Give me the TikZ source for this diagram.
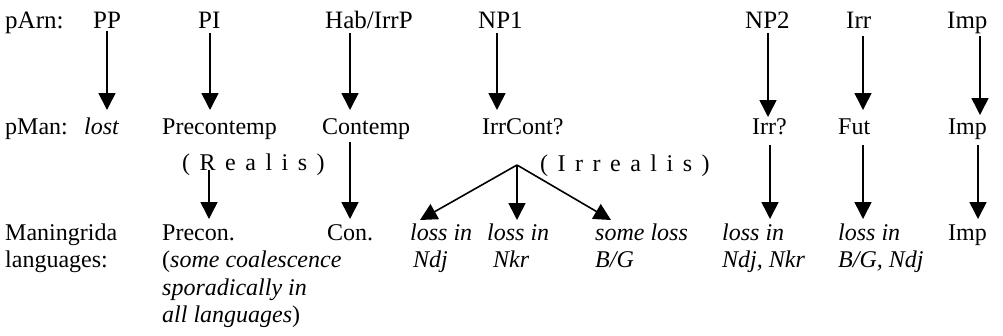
\documentclass[tikz,border=0pt]{standalone}
\usepackage{fontspec}
\setmainfont{Liberation Serif}
\usetikzlibrary{arrows.meta}
\newcommand\lsp{\hspace{9.5pt}}
\begin{document}
\begin{tikzpicture}[x=1pt,y=-1pt,
  txt/.style={anchor=base west, inner sep=0pt, font=\fontsize{24}{25}\selectfont},
  toptxt/.style={anchor=base west, inner sep=0pt, font=\fontsize{25}{26}\selectfont},
  itxt/.style={txt, font=\fontsize{24}{25}\selectfont\itshape},
  arr/.style={-{Triangle[width=17pt,length=17pt]}, line width=1.6pt}]
\useasboundingbox (0,0) rectangle (1003,335);
% row 1
\node[toptxt] (pArn) at (5,28) {pArn:};
\node[toptxt] (PP) at (93,28) {PP};
\node[toptxt] (PI) at (198,28) {PI};
\node[toptxt] (Hab) at (325,28) {Hab/IrrP};
\node[toptxt] (NP1) at (478,28) {NP1};
\node[toptxt] (NP2) at (745,28) {NP2};
\node[toptxt] (Irr) at (846,28) {Irr};
\node[toptxt] (Imp1) at (947,28) {Imp};
% row 2
\node[txt] (pMan) at (5,134) {pMan:};
\node[itxt] (lost) at (84,134) {lost};
\node[txt] (Precontemp) at (162,134) {Precontemp};
\node[txt] (Contemp) at (322,134) {Contemp};
\node[txt] (IrrCont) at (482,134) {IrrCont?};
\node[txt] (Irrq) at (752,134) {Irr?};
\node[txt] (Fut) at (838,134) {Fut};
\node[txt] (Imp2) at (948,134) {Imp};
\node[txt] (Realis) at (182,170) {(\lsp R\lsp e\lsp a\lsp l\lsp i\lsp s\lsp)};
\node[txt] (Irrealis) at (540,171) {(\lsp I\lsp r\lsp r\lsp e\lsp a\lsp l\lsp i\lsp s\lsp)};
% row 3
\node[txt] (Man1) at (5,240) {Maningrida};
\node[txt] (Man2) at (5,267) {languages:};
\node[txt] (Precon) at (162,240) {Precon.};
\node[txt] (Pc2) at (162,267) {(\textit{some coalescence}};
\node[itxt] (Pc3) at (162,295) {sporadically in};
\node[txt] (Pc4) at (162,322) {\textit{all languages})};
\node[txt] (Con) at (327,240) {Con.};
\node[itxt] (L1a) at (410,240) {loss in};
\node[itxt] (L1b) at (413,267) {Ndj};
\node[itxt] (L2a) at (487,240) {loss in};
\node[itxt] (L2b) at (493,267) {Nkr};
\node[itxt] (L3a) at (595,240) {some loss};
\node[itxt] (L3b) at (595,267) {B/G};
\node[itxt] (L4a) at (722,240) {loss in};
\node[itxt] (L4b) at (722,267) {Ndj, Nkr};
\node[itxt] (L5a) at (838,240) {loss in};
\node[itxt] (L5b) at (838,267) {B/G, Ndj};
\node[txt] (Imp3) at (948,240) {Imp};
% arrow end points
\coordinate (a1s) at (107,31);  \coordinate (a1e) at (107,110);
\coordinate (a2s) at (210,33);  \coordinate (a2e) at (210,110);
\coordinate (a3s) at (350,33);  \coordinate (a3e) at (350,110);
\coordinate (a4s) at (497,33);  \coordinate (a4e) at (497,110);
\coordinate (a5s) at (768,33);  \coordinate (a5e) at (768,117);
\coordinate (a6s) at (863,36);  \coordinate (a6e) at (863,110);
\coordinate (a7s) at (980,36);  \coordinate (a7e) at (980,115);
\coordinate (b1s) at (209,170); \coordinate (b1e) at (209,219);
\coordinate (b2s) at (350,142); \coordinate (b2e) at (350,219);
\coordinate (apex) at (517,165);
\coordinate (c1e) at (420,220); \coordinate (c2e) at (517,220); \coordinate (c3e) at (611,220);
\coordinate (b3s) at (770,145); \coordinate (b3e) at (770,219);
\coordinate (b4s) at (863,145); \coordinate (b4e) at (863,219);
\coordinate (b5s) at (978,145); \coordinate (b5e) at (978,219);
\foreach \s/\e in {a1s/a1e,a2s/a2e,a3s/a3e,a4s/a4e,a5s/a5e,a6s/a6e,a7s/a7e,b1s/b1e,b2s/b2e,b3s/b3e,b4s/b4e,b5s/b5e,apex/c1e,apex/c2e,apex/c3e}
  \draw[arr] (\s) -- (\e);
\end{tikzpicture}
\end{document}
